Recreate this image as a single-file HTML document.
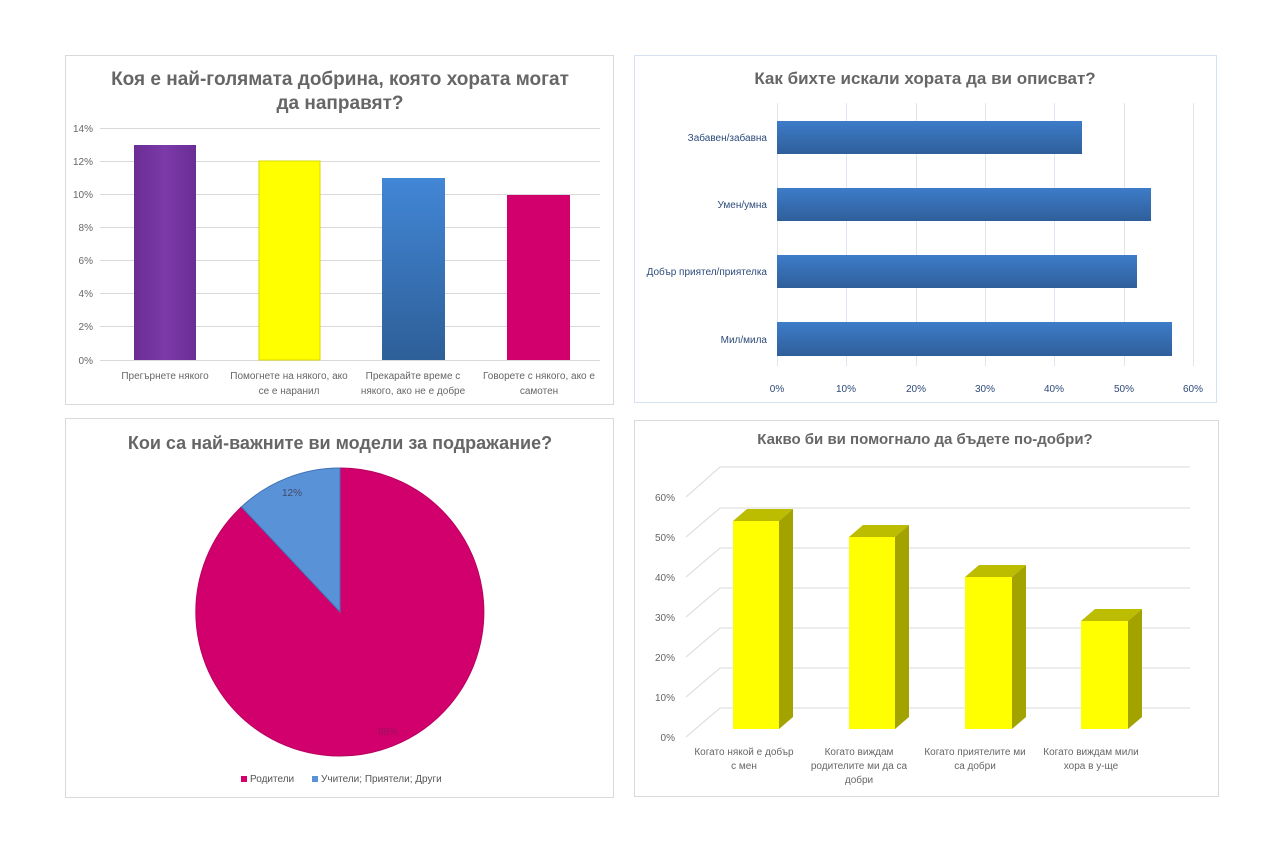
<!DOCTYPE html>
<html><head><meta charset="utf-8"><style>
body{margin:0;background:#fff}
svg{display:block;font-family:"Liberation Sans","DejaVu Sans",sans-serif}
</style></head><body>
<svg width="1280" height="859" viewBox="0 0 1280 859" xmlns="http://www.w3.org/2000/svg">
<defs>
<linearGradient id="gp" x1="0" x2="1"><stop offset="0" stop-color="#6a2d95"/><stop offset="0.5" stop-color="#7b3aa8"/><stop offset="1" stop-color="#6a2d95"/></linearGradient>
<linearGradient id="gb" x1="0" y1="0" x2="0" y2="1"><stop offset="0" stop-color="#4286d6"/><stop offset="1" stop-color="#2e5f98"/></linearGradient>
<linearGradient id="gh" x1="0" y1="0" x2="0" y2="1"><stop offset="0" stop-color="#3d7cc9"/><stop offset="1" stop-color="#2f5f9a"/></linearGradient>
</defs>
<rect width="1280" height="859" fill="#fff"/>
<!-- Panel 1 -->
<rect x="65.5" y="55.5" width="548" height="349" fill="#fff" stroke="#d9d9d9"/>
<g font-weight="bold" font-size="19" fill="#666" text-anchor="middle">
<text x="340" y="85">Коя е най-голямата добрина, която хората могат</text>
<text x="340" y="109">да направят?</text></g>
<g stroke="#d9d9d9">
<line x1="100" x2="600" y1="128.5" y2="128.5"/><line x1="100" x2="600" y1="161.5" y2="161.5"/>
<line x1="100" x2="600" y1="194.5" y2="194.5"/><line x1="100" x2="600" y1="227.5" y2="227.5"/>
<line x1="100" x2="600" y1="260.5" y2="260.5"/><line x1="100" x2="600" y1="293.5" y2="293.5"/>
<line x1="100" x2="600" y1="326.5" y2="326.5"/><line x1="100" x2="600" y1="360.5" y2="360.5"/></g>
<g font-size="10" fill="#666" text-anchor="end">
<text x="93" y="132">14%</text><text x="93" y="165">12%</text><text x="93" y="198">10%</text><text x="93" y="231">8%</text>
<text x="93" y="264">6%</text><text x="93" y="297">4%</text><text x="93" y="330">2%</text><text x="93" y="364">0%</text></g>
<rect x="134" y="145" width="62" height="215" fill="url(#gp)"/>
<rect x="259" y="161" width="61" height="199" fill="#ffff00" stroke="#d8d800"/>
<rect x="382" y="178" width="63" height="182" fill="url(#gb)"/>
<rect x="507" y="195" width="63" height="165" fill="#d1006d"/>
<g font-size="10" fill="#666" text-anchor="middle">
<text x="165" y="379">Прегърнете някого</text>
<text x="289" y="379">Помогнете на някого, ако</text><text x="289" y="394">се е наранил</text>
<text x="413" y="379">Прекарайте време с</text><text x="413" y="394">някого, ако не е добре</text>
<text x="539" y="379">Говорете с някого, ако е</text><text x="539" y="394">самотен</text></g>

<!-- Panel 2 -->
<rect x="634.5" y="55.5" width="582" height="347" fill="#fff" stroke="#d6e2ef"/>
<text x="925" y="84" font-weight="bold" font-size="17" fill="#666" text-anchor="middle">Как бихте искали хората да ви описват?</text>
<g stroke="#dde6f0">
<line x1="777.5" x2="777.5" y1="103" y2="366"/><line x1="846.5" x2="846.5" y1="103" y2="366"/>
<line x1="916.5" x2="916.5" y1="103" y2="366"/><line x1="985.5" x2="985.5" y1="103" y2="366"/>
<line x1="1054.5" x2="1054.5" y1="103" y2="366"/><line x1="1124.5" x2="1124.5" y1="103" y2="366"/>
<line x1="1193.5" x2="1193.5" y1="103" y2="366"/></g>
<rect x="777" y="121" width="305" height="33" fill="url(#gh)"/>
<rect x="777" y="188" width="374" height="33" fill="url(#gh)"/>
<rect x="777" y="255" width="360" height="33" fill="url(#gh)"/>
<rect x="777" y="322" width="395" height="34" fill="url(#gh)"/>
<g font-size="10" fill="#2d4a7a" text-anchor="end">
<text x="767" y="141">Забавен/забавна</text><text x="767" y="208">Умен/умна</text>
<text x="767" y="275">Добър приятел/приятелка</text><text x="767" y="343">Мил/мила</text></g>
<g font-size="10" fill="#2d4a7a" text-anchor="middle">
<text x="777" y="392">0%</text><text x="846" y="392">10%</text><text x="916" y="392">20%</text><text x="985" y="392">30%</text>
<text x="1054" y="392">40%</text><text x="1124" y="392">50%</text><text x="1193" y="392">60%</text></g>

<!-- Panel 3 -->
<rect x="65.5" y="418.5" width="548" height="379" fill="#fff" stroke="#d9d9d9"/>
<text x="340" y="449" font-weight="bold" font-size="18" fill="#666" text-anchor="middle">Кои са най-важните ви модели за подражание?</text>
<path d="M340,612 L241.4,506.9 A144,144 0 1 0 340,468 Z" fill="#d1006d" stroke="#b8005f" stroke-width="1"/>
<path d="M340,612 L340,468 A144,144 0 0 0 241.4,506.9 Z" fill="#5a92d8" stroke="#3f72b5" stroke-width="1"/>
<text x="292" y="496" font-size="10" fill="#404a66" text-anchor="middle">12%</text>
<text x="388" y="735" font-size="10" fill="#9a1060" text-anchor="middle">88%</text>
<rect x="241" y="776" width="6" height="6" fill="#d1006d"/>
<text x="250" y="782" font-size="10" fill="#555">Родители</text>
<rect x="312" y="776" width="6" height="6" fill="#5a92d8"/>
<text x="321" y="782" font-size="10" fill="#555">Учители; Приятели; Други</text>

<!-- Panel 4 -->
<rect x="634.5" y="420.5" width="584" height="376" fill="#fff" stroke="#d9d9d9"/>
<text x="925" y="444" font-weight="bold" font-size="15" fill="#666" text-anchor="middle">Какво би ви помогнало да бъдете по-добри?</text>
<g stroke="#d9d9d9" fill="none">
<path d="M686,497 L720,467 L1190,467"/><path d="M686,537 L720,508 L1190,508"/>
<path d="M686,577 L720,548 L1190,548"/><path d="M686,617 L720,588 L1190,588"/>
<path d="M686,657 L720,628 L1190,628"/><path d="M686,697 L720,668 L1190,668"/>
<path d="M686,737 L720,708 L1190,708"/></g>
<g font-size="10" fill="#666" text-anchor="end">
<text x="675" y="501">60%</text><text x="675" y="541">50%</text><text x="675" y="581">40%</text><text x="675" y="621">30%</text>
<text x="675" y="661">20%</text><text x="675" y="701">10%</text><text x="675" y="741">0%</text></g>
<g>
<polygon points="733,521 747,509 793,509 779,521" fill="#bcbc00"/><polygon points="779,521 793,509 793,717 779,729" fill="#a3a300"/><rect x="733" y="521" width="46" height="208" fill="#ffff00"/>
<polygon points="849,537 863,525 909,525 895,537" fill="#bcbc00"/><polygon points="895,537 909,525 909,717 895,729" fill="#a3a300"/><rect x="849" y="537" width="46" height="192" fill="#ffff00"/>
<polygon points="965,577 979,565 1026,565 1012,577" fill="#bcbc00"/><polygon points="1012,577 1026,565 1026,717 1012,729" fill="#a3a300"/><rect x="965" y="577" width="47" height="152" fill="#ffff00"/>
<polygon points="1081,621 1095,609 1142,609 1128,621" fill="#bcbc00"/><polygon points="1128,621 1142,609 1142,717 1128,729" fill="#a3a300"/><rect x="1081" y="621" width="47" height="108" fill="#ffff00"/>
</g>
<g font-size="10" fill="#666" text-anchor="middle">
<text x="744" y="755">Когато някой е добър</text><text x="744" y="769">с мен</text>
<text x="859" y="755">Когато виждам</text><text x="859" y="769">родителите ми да са</text><text x="859" y="783">добри</text>
<text x="975" y="755">Когато приятелите ми</text><text x="975" y="769">са добри</text>
<text x="1091" y="755">Когато виждам мили</text><text x="1091" y="769">хора в у-ще</text></g>
</svg>
</body></html>
